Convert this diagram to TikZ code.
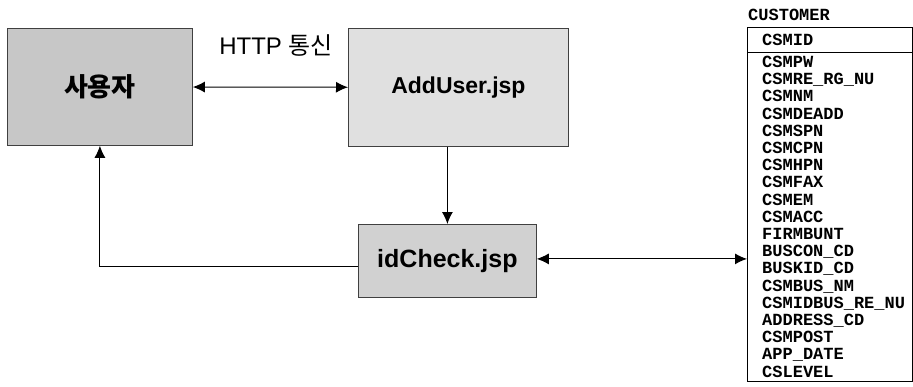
\documentclass[tikz,border=0pt]{standalone}
\usepackage{fontspec}
\setmainfont{Liberation Sans}
\newfontfamily\krfont{Noto Sans CJK KR}
\newfontfamily\fieldfont{Liberation Mono}
\usetikzlibrary{arrows.meta,positioning,calc}

\tikzset{
  pagebox/.style={draw=black!75, line width=0.8pt, inner sep=0pt, anchor=north west},
  link/.style={line width=1pt, -{Latex[length=12pt,width=11pt]}},
  twoway/.style={line width=1pt, {Latex[length=12pt,width=11pt]}-{Latex[length=12pt,width=11pt]}},
  field/.style={anchor=west, inner sep=0pt, text height=11pt, text depth=4pt,
    font=\fieldfont\bfseries\fontsize{17}{17}\selectfont},
}

\begin{document}
\begin{tikzpicture}[x=1pt, y=-1pt]
  \useasboundingbox (0,0) rectangle (913,386);

  % pages
  \node[pagebox, fill=black!22, minimum width=185pt, minimum height=117pt] (user) at (7,28)
    {\krfont\bfseries\fontsize{26}{26}\selectfont 사용자};
  \node[pagebox, fill=black!12, minimum width=220pt, minimum height=118pt] (adduser) at (348,28)
    {\bfseries\fontsize{23}{23}\selectfont AddUser.jsp};
  \node[pagebox, fill=black!18, minimum width=178pt, minimum height=73pt] (idcheck) at (358,224)
    {\bfseries\fontsize{25}{25}\selectfont idCheck.jsp};

  \node (http) at (276,45) {\fontsize{24}{24}\selectfont HTTP {\krfont 통신}};

  % CUSTOMER table
  \node[draw, line width=1.2pt, inner sep=0pt, anchor=north west,
        minimum width=165pt, minimum height=354pt] (tbl) at (747,27) {};
  \node[field] (tname) at (748,17) {CUSTOMER};
  \draw[line width=1pt] (tbl.west |- 0,52) -- (tbl.east |- 0,52);
  \node[field] (pk) at (762,42) {CSMID};
  \foreach \f [count=\i from 0] in {CSMPW, CSMRE\_RG\_NU, CSMNM, CSMDEADD, CSMSPN,
      CSMCPN, CSMHPN, CSMFAX, CSMEM, CSMACC, FIRMBUNT, BUSCON\_CD, BUSKID\_CD,
      CSMBUS\_NM, CSMIDBUS\_RE\_NU, ADDRESS\_CD, CSMPOST, APP\_DATE, CSLEVEL}
    \node[field] (f\i) at (762,{64+17.2*\i}) {\f};

  % connectors
  \draw[twoway] (user) -- (adduser);
  \draw[link] (adduser.south -| idcheck.north) -- (idcheck.north);
  \draw[link] ([yshift=-6pt]idcheck.west) -| (user.south);
  \draw[twoway] ([yshift=2pt]idcheck.east) -- ([yshift=2pt]idcheck.east -| tbl.west);
\end{tikzpicture}
\end{document}
